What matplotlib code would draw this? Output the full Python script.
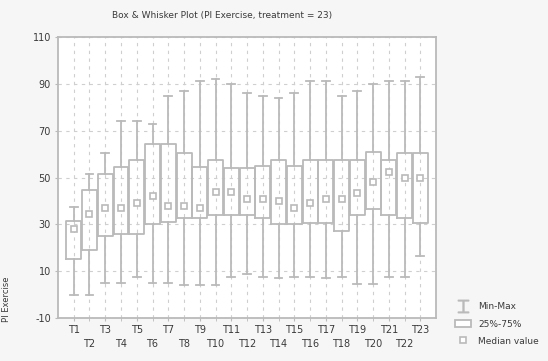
import matplotlib
matplotlib.use("Agg")
import matplotlib.pyplot as plt
from matplotlib.lines import Line2D
from matplotlib.patches import Rectangle

labels = [f"T{i}" for i in range(1, 24)]
maxima = [37.5, 51.5, 60.5, 74, 74, 73, 85, 87, 91, 92, 90, 86, 85, 84, 86, 91, 91, 85, 87, 90, 91, 91, 93]
q3 = [31.5, 44.5, 51.5, 54.5, 57.5, 64.5, 64.5, 60.5, 54.5, 57.5, 54, 54, 55, 57.5, 55, 57.5, 57.5, 57.5, 57.5, 61, 57.5, 60.5, 60.5]
medians = [28, 34.5, 37, 37, 39, 42, 38, 38, 37, 44, 44, 41, 41, 40, 37, 39, 41, 41, 43.5, 48, 52.5, 50, 50]
q1 = [15, 19, 25, 26, 26, 30, 31, 32.5, 32.5, 34, 34, 34, 32.5, 30, 30, 30.5, 30.5, 27, 34, 36.5, 34, 32.5, 30.5]
minima = [0, 0, 5, 5, 7.5, 5, 5, 4, 4, 4, 7.5, 9, 7.5, 7, 7.5, 7.5, 7, 7.5, 4.5, 4.5, 7.5, 7.5, 16.5]
yticks = [-10, 10, 30, 50, 70, 90, 110]

edge = "#bababa"
txt = "#3a3a3a"

fig = plt.figure(figsize=(5.48, 3.61), dpi=100, facecolor="#f6f6f6")
ax = fig.add_axes([0.1058, 0.1191, 0.69, 0.7784])
ax.set_facecolor("white")

positions = list(range(1, len(labels) + 1))
stats = [dict(med=m, q1=a, q3=b, whislo=lo, whishi=hi, label=l)
         for l, m, a, b, lo, hi in zip(labels, medians, q1, q3, minima, maxima)]
ax.bxp(stats, positions=positions, widths=0.95, capwidths=0.5, showfliers=False,
       boxprops=dict(color=edge, linewidth=1.3),
       whiskerprops=dict(color=edge, linewidth=1.3),
       capprops=dict(color=edge, linewidth=1.3),
       medianprops=dict(linestyle="none"), zorder=3)
ax.plot(positions, medians, "s", ms=5, mfc="white", mec=edge, mew=1.2, zorder=4)

ax.set_xlim(0, 24)
ax.set_ylim(-10, 110)
ax.set_yticks(yticks)
ax.set_yticklabels([str(v) for v in yticks], fontsize=7, color=txt)

# odd labels on the first row, even labels staggered on a second row
odd_pos = positions[0::2]
even_pos = positions[1::2]
ax.set_xticks(odd_pos)
ax.set_xticklabels(labels[0::2], fontsize=7, color=txt)
ax.set_xticks(even_pos, minor=True)
ax.set_xticklabels(labels[1::2], minor=True, fontsize=7, color=txt)
ax.tick_params(axis="both", which="major", length=2, color=edge, pad=3)
ax.tick_params(axis="x", which="minor", length=2, color=edge, pad=13)
ax.grid(True, which="both", color="#cfcfcf", linestyle=(0, (3, 4)), linewidth=0.8, zorder=0)
ax.grid(False, axis="y", which="minor")
for s in ax.spines.values():
    s.set_color(edge)
    s.set_linewidth(1.3)

fig.text(0.405, 0.958, "Box & Whisker Plot (PI Exercise, treatment = 23)",
         ha="center", va="center", fontsize=6.5, color=txt)
fig.text(0.012, 0.17, "PI Exercise", rotation=90, ha="center", va="center",
         fontsize=6, color=txt)

handles = [
    Line2D([0], [0], color=edge, lw=1.3, marker="$\u2336$", ms=9, linestyle="none"),
    Rectangle((0, 0), 1, 1, fc="white", ec=edge, lw=1.3),
    Line2D([0], [0], marker="s", ms=5, mfc="white", mec=edge, mew=1.2, linestyle="none"),
]
fig.legend(handles, ["Min-Max", "25%-75%", "Median value"], loc="lower left",
           bbox_to_anchor=(0.815, 0.02), frameon=False, fontsize=6.5,
           labelcolor=txt, handlelength=1.8, labelspacing=0.9)

fig.savefig("out.png", dpi=100, facecolor=fig.get_facecolor())
